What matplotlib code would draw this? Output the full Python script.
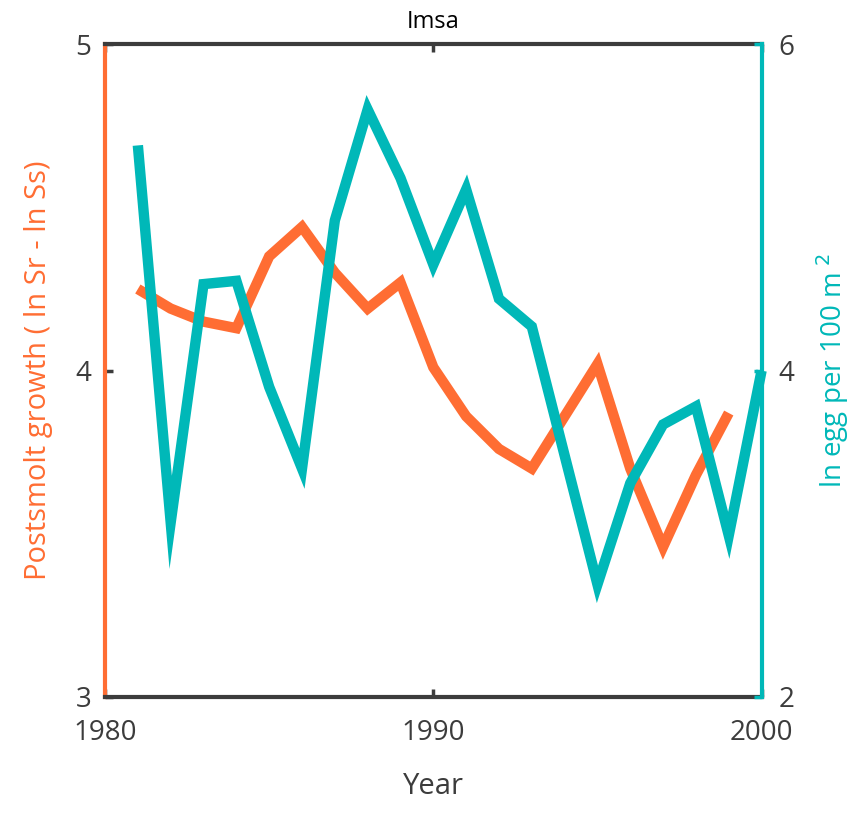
import matplotlib.pyplot as plt
import numpy as np

plt.rcParams['font.family'] = ['Open Sans', 'DejaVu Sans']

# data
years_growth = np.arange(1981, 2000)
growth = [4.25, 4.19, 4.15, 4.13, 4.35, 4.44, 4.30, 4.19, 4.27, 4.01,
          3.86, 3.76, 3.70, 3.86, 4.02, 3.70, 3.46, 3.68, 3.87]
years_egg = np.arange(1981, 2001)
egg = [5.38, 3.07, 4.53, 4.55, 3.90, 3.40, 4.92, 5.60, 5.18, 4.65,
       5.11, 4.44, 4.27, 3.48, 2.69, 3.31, 3.67, 3.78, 2.99, 4.00]

orange = '#FF6D33'
teal = '#00B8B8'
grey = '#3c3c3c'

fig = plt.figure(figsize=(8.56, 8.19), dpi=100)
ax = fig.add_axes([0.1227, 0.149, 0.767, 0.797])
ax2 = ax.twinx()

ax.plot(years_growth, growth, color=orange, linewidth=7.5,
        solid_joinstyle='miter', solid_capstyle='butt')
ax2.plot(years_egg, egg, color=teal, linewidth=7.5,
         solid_joinstyle='miter', solid_capstyle='butt', clip_on=False)

ax.set_xlim(1980, 2000)
ax.set_ylim(3, 5)
ax2.set_ylim(2, 6)
ax.set_xticks([1980, 1990, 2000])
ax.set_yticks([3, 4, 5])
ax2.set_yticks([2, 4, 6])

for s in ['top', 'bottom']:
    ax.spines[s].set_color(grey)
    ax.spines[s].set_linewidth(3)
ax.spines['left'].set_color(orange)
ax.spines['left'].set_linewidth(3)
ax.spines['right'].set_visible(False)
ax2.spines['right'].set_color(teal)
ax2.spines['right'].set_linewidth(3)
for s in ['left', 'top', 'bottom']:
    ax2.spines[s].set_visible(False)

ax.tick_params(axis='x', direction='in', length=6, width=2.5, color=grey,
               labelsize=20, labelcolor=grey, pad=16, top=True)
ax.tick_params(axis='y', direction='in', length=6, width=2.5, color=grey,
               labelsize=20, labelcolor=grey, pad=10)
ax2.tick_params(axis='y', direction='in', length=6, width=2.5, color=teal,
                labelsize=20, labelcolor=grey, pad=12)

ax.set_xlabel('Year', fontsize=21, color=grey, labelpad=18)
ax.set_ylabel('Postsmolt growth ( ln Sr - ln Ss)', fontsize=21, color=orange, labelpad=16)
ax2.set_ylabel('ln egg per 100 m$^{\\ 2}$', fontsize=20, color=teal, labelpad=14)
ax.set_title('Imsa', fontsize=17, color='black', pad=12)

plt.savefig('out.png', dpi=100)
